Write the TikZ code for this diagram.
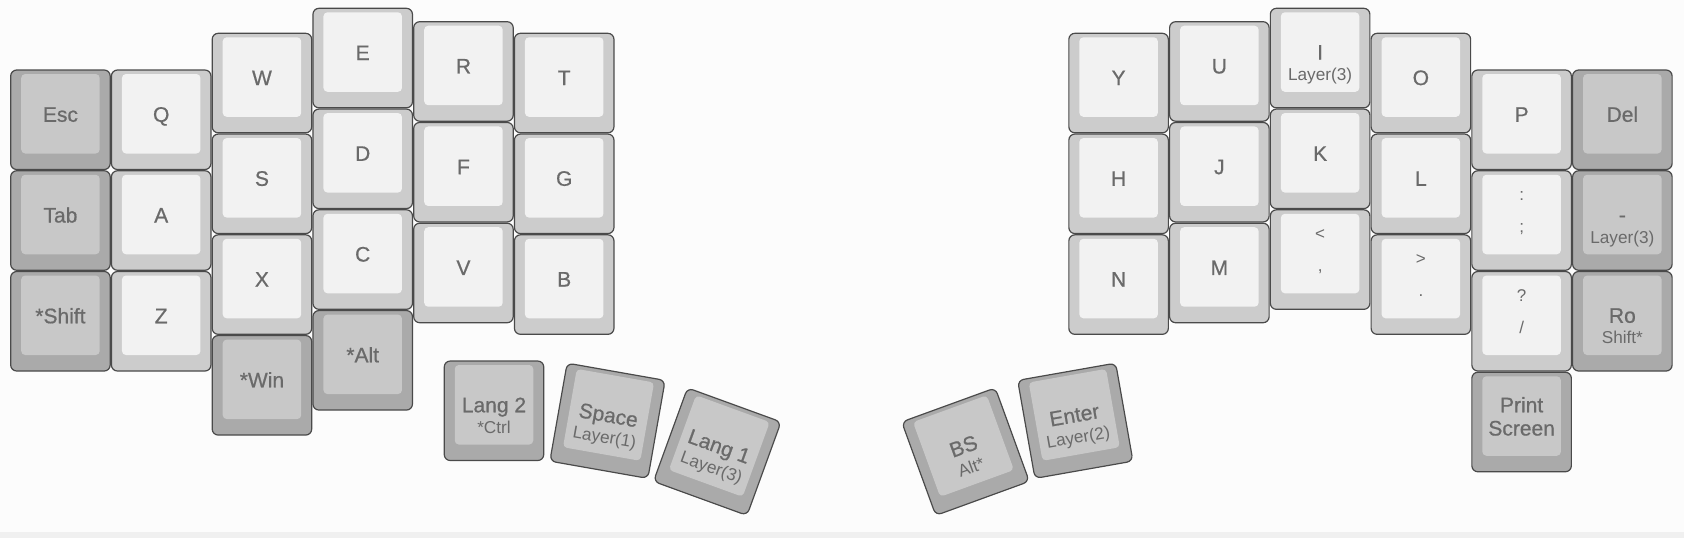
\documentclass[tikz,border=0pt]{standalone}
\usepackage{fontspec}
\setmainfont{Liberation Sans}
\newfontfamily\medfont{Liberation Sans}[FakeBold=0.7]
\definecolor{keyLo}{HTML}{CCCCCC}
\definecolor{keyLi}{HTML}{F2F2F2}
\definecolor{keyDo}{HTML}{AAAAAA}
\definecolor{keyDi}{HTML}{C8C8C8}
\definecolor{keyline}{HTML}{4A4A4A}
\definecolor{txt}{HTML}{6A6A6A}
\definecolor{bgc}{HTML}{FCFCFC}
\definecolor{bandc}{HTML}{F0F0F0}
\tikzset{
  Louter/.style={draw=keyline,line width=0.6pt,fill=keyLo,rounded corners=3pt,minimum width=49.75pt,minimum height=49.75pt,inner sep=0pt},
  Douter/.style={Louter,fill=keyDo},
  Linner/.style={fill=keyLi,rounded corners=2pt},
  Dinner/.style={fill=keyDi,rounded corners=2pt},
  mainlbl/.style={font=\medfont\fontsize{10.5}{12}\selectfont,text=txt,anchor=base,inner sep=0pt},
  sublbl/.style={font=\fontsize{8.6}{10}\selectfont,text=txt,anchor=base,inner sep=0pt},
  symlbl/.style={font=\fontsize{8.5}{10}\selectfont,text=txt,anchor=base,inner sep=0pt}
}
\newcommand\keyone[6]{%
\begin{scope}[shift={(#2,#3)},rotate=#4,transform shape]
\node[#5outer] (#1) at (0,0) {};
\fill[#5inner] (-39.25,-45.75) rectangle (39.25,33.75);
\node[mainlbl] (#1-a) at (0,2) {#6};
\end{scope}}
\newcommand\keytwo[7]{%
\begin{scope}[shift={(#2,#3)},rotate=#4,transform shape]
\node[#5outer] (#1) at (0,0) {};
\fill[#5inner] (-39.25,-45.75) rectangle (39.25,33.75);
\node[mainlbl] (#1-a) at (0,1.5) {#6};
\node[sublbl] (#1-b) at (0,22.5) {#7};
\end{scope}}
\newcommand\keysym[7]{%
\begin{scope}[shift={(#2,#3)},rotate=#4,transform shape]
\node[#5outer] (#1) at (0,0) {};
\fill[#5inner] (-39.25,-45.75) rectangle (39.25,33.75);
\node[symlbl] (#1-a) at (0,-19.75) {#6};
\node[symlbl] (#1-b) at (0,12.25) {#7};
\end{scope}}
\newcommand\keywrap[7]{%
\begin{scope}[shift={(#2,#3)},rotate=#4,transform shape]
\node[#5outer] (#1) at (0,0) {};
\fill[#5inner] (-39.25,-45.75) rectangle (39.25,33.75);
\node[mainlbl] (#1-a) at (0,-9.75) {#6};
\node[mainlbl] (#1-b) at (0,13.5) {#7};
\end{scope}}
\begin{document}
\begin{tikzpicture}[x=0.5pt,y=-0.5pt]
\useasboundingbox (0,0) rectangle (1684,538);
\fill[bgc] (0,0) rectangle (1684,538);
\fill[bandc] (0,531.5) rectangle (1684,538);
% left half
\keyone{esc}{60.45}{119.75}{0}{D}{Esc}
\keyone{tab}{60.45}{220.5}{0}{D}{Tab}
\keyone{shift}{60.45}{321.25}{0}{D}{*Shift}
\keyone{q}{161.2}{119.75}{0}{L}{Q}
\keyone{a}{161.2}{220.5}{0}{L}{A}
\keyone{z}{161.2}{321.25}{0}{L}{Z}
\keyone{w}{261.95}{83.05}{0}{L}{W}
\keyone{s}{261.95}{183.8}{0}{L}{S}
\keyone{x}{261.95}{284.55}{0}{L}{X}
\keyone{win}{261.95}{385.3}{0}{D}{*Win}
\keyone{e}{362.7}{58.05}{0}{L}{E}
\keyone{d}{362.7}{158.8}{0}{L}{D}
\keyone{c}{362.7}{259.55}{0}{L}{C}
\keyone{alt}{362.7}{360.3}{0}{D}{*Alt}
\keyone{r}{463.45}{71.45}{0}{L}{R}
\keyone{f}{463.45}{172.2}{0}{L}{F}
\keyone{v}{463.45}{272.95}{0}{L}{V}
\keyone{t}{564.2}{83.05}{0}{L}{T}
\keyone{g}{564.2}{183.8}{0}{L}{G}
\keyone{b}{564.2}{284.55}{0}{L}{B}
\keytwo{langb}{494}{410.75}{0}{D}{Lang 2}{*Ctrl}
\keytwo{space}{607.5}{420.75}{-10}{D}{Space}{Layer(1)}
\keytwo{langa}{717.25}{451.65}{-20}{D}{Lang 1}{Layer(3)}
% thumb right
\keytwo{bs}{965.5}{451.65}{20}{D}{BS}{Alt*}
\keytwo{enter}{1075.3}{420.75}{10}{D}{Enter}{Layer(2)}
% right half
\keyone{y}{1118.6}{83.05}{0}{L}{Y}
\keyone{h}{1118.6}{183.8}{0}{L}{H}
\keyone{n}{1118.6}{284.55}{0}{L}{N}
\keyone{u}{1219.35}{71.45}{0}{L}{U}
\keyone{j}{1219.35}{172.2}{0}{L}{J}
\keyone{m}{1219.35}{272.95}{0}{L}{M}
\keytwo{i}{1320.1}{58.05}{0}{L}{I}{Layer(3)}
\keyone{k}{1320.1}{158.8}{0}{L}{K}
\keysym{comma}{1320.1}{259.55}{0}{L}{<}{,}
\keyone{o}{1420.85}{83.05}{0}{L}{O}
\keyone{l}{1420.85}{183.8}{0}{L}{L}
\keysym{period}{1420.85}{284.55}{0}{L}{>}{.}
\keyone{p}{1521.6}{119.75}{0}{L}{P}
\keysym{semi}{1521.6}{220.5}{0}{L}{:}{;}
\keysym{slash}{1521.6}{321.25}{0}{L}{?}{/}
\keywrap{prt}{1521.6}{422}{0}{D}{Print}{Screen}
\keyone{del}{1622.35}{119.75}{0}{D}{Del}
\keytwo{minus}{1622.35}{220.5}{0}{D}{-}{Layer(3)}
\keytwo{ro}{1622.35}{321.25}{0}{D}{Ro}{Shift*}
\end{tikzpicture}
\end{document}
